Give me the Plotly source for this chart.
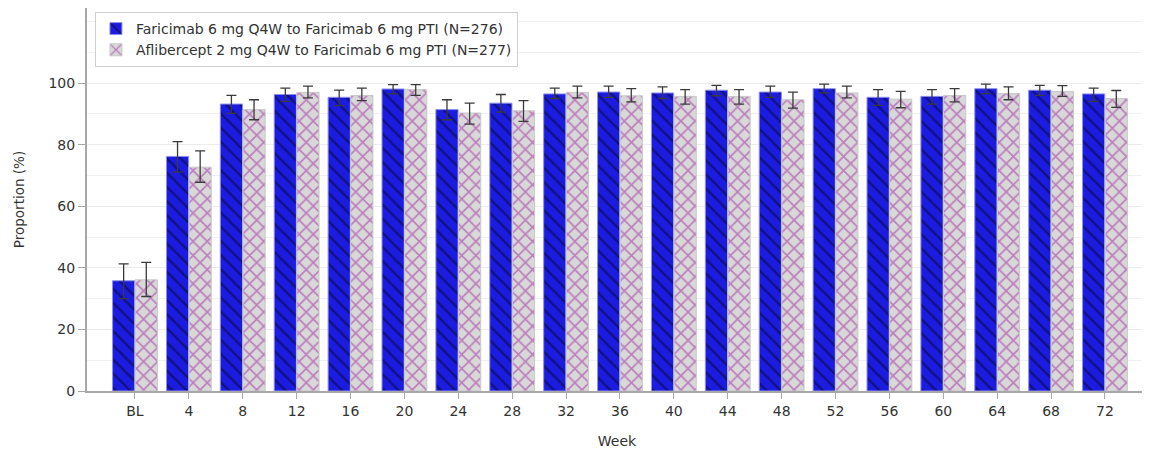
import plotly.graph_objects as go

weeks = ["BL", "4", "8", "12", "16", "20", "24", "28", "32", "36", "40", "44", "48", "52", "56", "60", "64", "68", "72"]

fari_name = "Faricimab 6 mg Q4W to Faricimab 6 mg PTI (N=276)"
afli_name = "Aflibercept 2 mg Q4W to Faricimab 6 mg PTI (N=277)"

fari_val = [35.8, 76.2, 93.2, 96.3, 95.4, 98.1, 91.4, 93.5, 96.5, 97.1, 96.8, 97.7, 97.1, 98.2, 95.4, 95.7, 98.2, 97.7, 96.5]
fari_hi = [41.3, 81.0, 96.0, 98.4, 97.7, 99.5, 94.6, 96.3, 98.4, 99.0, 98.8, 99.3, 99.0, 99.7, 97.9, 97.9, 99.7, 99.3, 98.4]
fari_lo = [30.0, 71.1, 90.2, 94.1, 92.7, 96.5, 88.1, 90.6, 95.0, 95.4, 95.0, 95.9, 95.4, 96.8, 92.8, 93.2, 96.6, 96.0, 94.1]

afli_val = [36.1, 72.7, 91.4, 97.0, 96.0, 97.9, 90.3, 91.0, 97.0, 95.9, 95.7, 95.7, 94.6, 96.8, 94.8, 96.0, 96.6, 97.3, 95.0]
afli_hi = [41.8, 78.0, 94.6, 99.0, 98.4, 99.5, 93.5, 94.3, 99.0, 98.2, 97.9, 97.9, 97.1, 99.0, 97.3, 98.2, 98.8, 99.2, 97.6]
afli_lo = [30.7, 67.8, 88.1, 95.2, 94.3, 96.0, 86.7, 87.6, 95.2, 93.9, 93.2, 93.2, 91.9, 95.2, 92.0, 93.9, 94.6, 95.7, 92.1]

def err(vals, hi, lo):
    return dict(type="data", symmetric=False,
                array=[h - v for h, v in zip(hi, vals)],
                arrayminus=[v - l for v, l in zip(vals, lo)],
                color="#3a3a3a", thickness=1.3, width=5)

fig = go.Figure()
fig.add_trace(go.Bar(
    x=weeks, y=fari_val, name=fari_name,
    marker=dict(color="#1c1ce0",
                line=dict(color="#8f8fef", width=1),
                pattern=dict(shape="\\", fgcolor="#05052a", bgcolor="#1c1ce0", size=10, solidity=0.25)),
    error_y=err(fari_val, fari_hi, fari_lo),
))
fig.add_trace(go.Bar(
    x=weeks, y=afli_val, name=afli_name,
    marker=dict(color="#d4d4d4",
                line=dict(color="#c8c8c8", width=1),
                pattern=dict(shape="x", fgcolor="#a020a0", bgcolor="#d8d8d8", size=10, solidity=0.3)),
    error_y=err(afli_val, afli_hi, afli_lo),
))

fig.update_layout(
    width=1142, height=444,
    margin=dict(l=79, r=3, t=0, b=61, autoexpand=False),
    paper_bgcolor="white", plot_bgcolor="white",
    font=dict(family="DejaVu Sans", size=12.5, color="#333333"),
    barmode="group", bargap=0.16, bargroupgap=0.02,
    showlegend=True,
    legend=dict(x=0.0075, y=0.9896, xanchor="left", yanchor="top",
                bgcolor="white", bordercolor="#d0d0d0", borderwidth=1,
                font=dict(size=14, color="#333333"), tracegroupgap=0),
    xaxis=dict(range=[-0.89, 18.78], showline=True, linecolor="#a8a8a8", linewidth=2,
               mirror=True, ticks="outside", ticklen=6, tickcolor="#a8a8a8",
               showgrid=False, automargin=False,
               title=dict(text="Week", standoff=18, font=dict(size=14)),
               tickfont=dict(size=14)),
    yaxis=dict(range=[0, 124.4], showline=True, linecolor="#a8a8a8", linewidth=2,
               ticks="outside", ticklen=7, tickcolor="#a8a8a8",
               tickvals=[0, 20, 40, 60, 80, 100],
               showgrid=True, gridcolor="#ececec", gridwidth=1,
               minor=dict(dtick=10, showgrid=True, gridcolor="#f0f0f0"),
               zeroline=False, automargin=False,
               title=dict(text="Proportion (%)", standoff=21, font=dict(size=13.5)),
               tickfont=dict(size=14)),
)

fig.write_html("out.html")
